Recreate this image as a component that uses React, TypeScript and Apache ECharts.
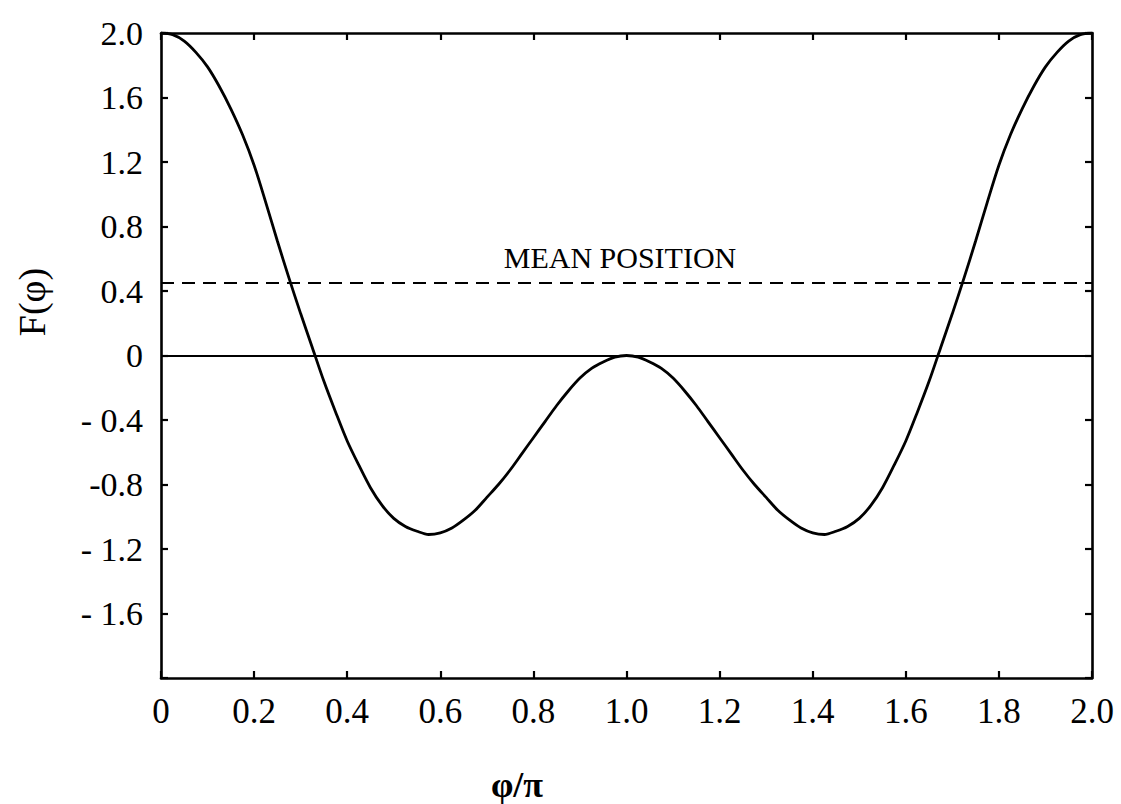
import React, { useEffect, useRef } from "react";
import * as echarts from "echarts";

// phi / pi sample positions and F(phi) values
const phiOverPi = [
  0.0, 0.025, 0.05, 0.075, 0.1, 0.125, 0.15, 0.175, 0.2, 0.225, 0.25, 0.275, 0.3, 0.325, 0.35, 0.375, 0.4, 0.425, 0.45, 0.475,
  0.5, 0.525, 0.55, 0.575, 0.6, 0.625, 0.65, 0.675, 0.7, 0.725, 0.75, 0.775, 0.8, 0.825, 0.85, 0.875, 0.9, 0.925, 0.95, 0.975,
  1.0, 1.025, 1.05, 1.075, 1.1, 1.125, 1.15, 1.175, 1.2, 1.225, 1.25, 1.275, 1.3, 1.325, 1.35, 1.375, 1.4, 1.425, 1.45, 1.475,
  1.5, 1.525, 1.55, 1.575, 1.6, 1.625, 1.65, 1.675, 1.7, 1.725, 1.75, 1.775, 1.8, 1.825, 1.85, 1.875, 1.9, 1.925, 1.95, 1.975,
  2.0,
];
const fValues = [
  2.0, 1.99, 1.95, 1.88, 1.79, 1.67, 1.53, 1.37, 1.18, 0.95, 0.71, 0.48, 0.26, 0.05, -0.16, -0.35, -0.53, -0.68, -0.82, -0.93,
  -1.01, -1.06, -1.09, -1.11, -1.1, -1.07, -1.02, -0.96, -0.88, -0.8, -0.71, -0.61, -0.51, -0.41, -0.31, -0.22, -0.14, -0.08, -0.04, -0.01,
  0.0, -0.01, -0.04, -0.08, -0.14, -0.22, -0.31, -0.41, -0.51, -0.61, -0.71, -0.8, -0.88, -0.96, -1.02, -1.07, -1.1, -1.11, -1.09, -1.06,
  -1.01, -0.93, -0.82, -0.68, -0.53, -0.35, -0.16, 0.05, 0.26, 0.48, 0.71, 0.95, 1.18, 1.37, 1.53, 1.67, 1.79, 1.88, 1.95, 1.99,
  2.0,
];

const meanPosition = 0.45;
const zeroLevel = 0;

const xTickLabels = ["0", "0.2", "0.4", "0.6", "0.8", "1.0", "1.2", "1.4", "1.6", "1.8", "2.0"];
const yTickLabels = ["", "- 1.6", "- 1.2", "-0.8", "- 0.4", "0", "0.4", "0.8", "1.2", "1.6", "2.0"];

const X_MIN = 0;
const X_MAX = 2;
const X_STEP = 0.2;
const Y_MIN = -2;
const Y_MAX = 2;
const Y_STEP = 0.4;

const SERIF = "'Liberation Serif', 'DejaVu Serif', 'Times New Roman', serif";

export default function App() {
  const ref = useRef<HTMLDivElement>(null);

  useEffect(() => {
    document.body.style.margin = "0";
    if (!ref.current) return;
    const chart = echarts.init(ref.current, undefined, { renderer: "svg" });

    const lineColor = "#000";
    const axisCommon = {
      type: "value" as const,
      axisLine: { show: true, onZero: false, lineStyle: { color: lineColor, width: 2.6 } },
      axisTick: { show: true, inside: true, length: 7, lineStyle: { color: lineColor, width: 2.2 } },
      splitLine: { show: false },
    };

    const data = phiOverPi.map((x, i) => [x, fValues[i]]);

    chart.setOption({
      animation: false,
      backgroundColor: "#fff",
      grid: { left: 161, right: 29, top: 33, bottom: 126 },
      xAxis: [
        {
          ...axisCommon,
          position: "bottom",
          min: X_MIN,
          max: X_MAX,
          interval: X_STEP,
          axisLabel: {
            show: true,
            margin: 16,
            color: "#000",
            fontFamily: SERIF,
            fontSize: 35,
            formatter: (v: number) => xTickLabels[Math.round((v - X_MIN) / X_STEP)] ?? "",
          },
        },
        {
          ...axisCommon,
          position: "top",
          min: X_MIN,
          max: X_MAX,
          interval: X_STEP,
          axisLabel: { show: false },
        },
      ],
      yAxis: [
        {
          ...axisCommon,
          position: "left",
          min: Y_MIN,
          max: Y_MAX,
          interval: Y_STEP,
          axisLabel: {
            show: true,
            margin: 18,
            color: "#000",
            fontFamily: SERIF,
            fontSize: 34,
            formatter: (v: number) => yTickLabels[Math.round((v - Y_MIN) / Y_STEP)] ?? "",
          },
        },
        {
          ...axisCommon,
          position: "right",
          min: Y_MIN,
          max: Y_MAX,
          interval: Y_STEP,
          axisLabel: { show: false },
        },
      ],
      series: [
        {
          type: "line",
          data,
          smooth: 0.3,
          symbol: "none",
          lineStyle: { color: lineColor, width: 2.8 },
          silent: true,
          markLine: {
            silent: true,
            symbol: "none",
            label: { show: false },
            data: [
              { yAxis: meanPosition, lineStyle: { color: lineColor, width: 2, type: [13, 8] } },
              { yAxis: zeroLevel, lineStyle: { color: lineColor, width: 2.2, type: "solid" } },
            ],
          },
        },
      ],
      graphic: [
        {
          type: "text",
          x: 620,
          y: 257,
          style: {
            text: "MEAN POSITION",
            fontFamily: SERIF,
            fontSize: 30,
            fill: "#000",
            align: "center",
            verticalAlign: "middle",
          },
        },
        {
          type: "text",
          x: 32,
          y: 302,
          rotation: Math.PI / 2,
          style: {
            text: "F(φ)",
            fontFamily: SERIF,
            fontSize: 38,
            fill: "#000",
            align: "center",
            verticalAlign: "middle",
          },
        },
        {
          type: "text",
          x: 517,
          y: 785,
          style: {
            text: "φ/π",
            fontFamily: SERIF,
            fontSize: 36,
            fontWeight: "bold",
            fill: "#000",
            align: "center",
            verticalAlign: "middle",
          },
        },
      ],
    });

    return () => chart.dispose();
  }, []);

  return (
    <div
      ref={ref}
      style={{ position: "absolute", left: 0, top: 0, width: 1121, height: 804 }}
    />
  );
}
